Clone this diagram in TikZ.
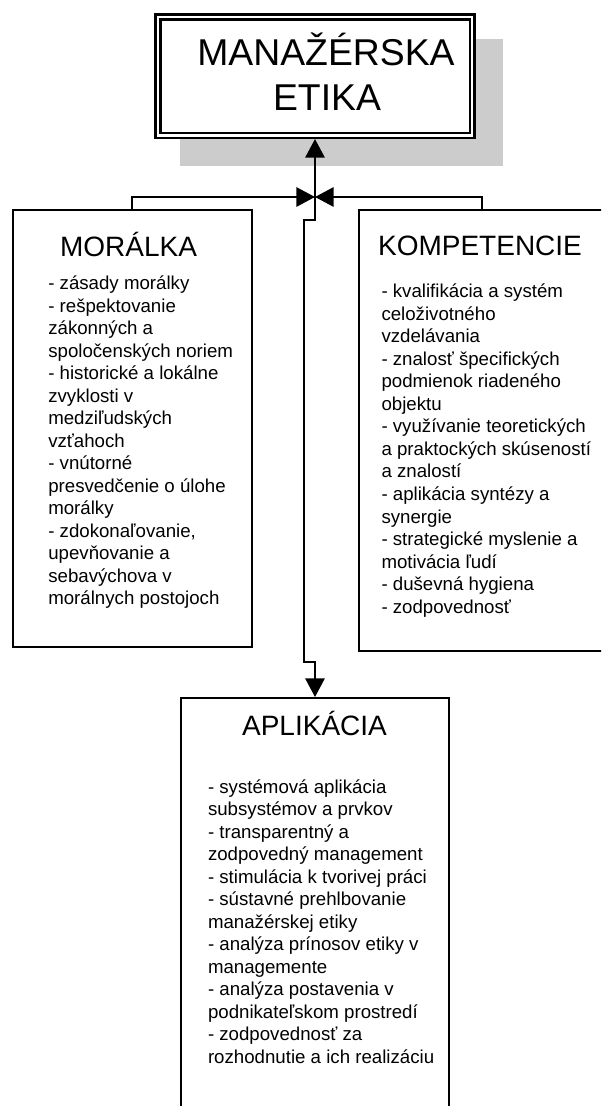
\documentclass[tikz,border=0pt]{standalone}
\usepackage{fontspec}
\setmainfont{Liberation Sans}
\usetikzlibrary{arrows.meta}

\definecolor{shadowgray}{RGB}{204,204,204}
\newcommand{\itemlines}[1]{\begin{tabular}[t]{@{}l@{}}#1\end{tabular}}

\tikzset{every picture/.style={line width=1.5pt}}
\tikzset{
  box/.style={draw, rectangle, fill=white, inner sep=0pt},
  titlebox/.style={draw, double=white, double distance=1.8pt, line width=1.8pt, rectangle, fill=white, inner sep=0pt, outer sep=2.7pt},
  titletext/.style={anchor=base, inner sep=0pt, font=\fontsize{28}{33.5}\selectfont},
  headtext/.style={anchor=base, inner sep=0pt, font=\fontsize{21}{25}\selectfont},
  listtext/.style={anchor=base west, inner sep=0pt, font=\fontsize{14}{16.9}\selectfont},
  conn/.style={-{Triangle[length=14pt,width=14.5pt]}, line width=1.5pt}
}

\begin{document}
\begin{tikzpicture}[x=0.75pt,y=0.75pt,yscale=-1,xscale=1]
%set diagram left start at 0, and has height of 1106
\useasboundingbox (0,0) rectangle (601,1106);
\clip (0,0) rectangle (601,1106);
%Shape: Shadow [id:shadow]
\fill [shadowgray] (180,39) rectangle (503,166);
%Shape: Rectangle [id:title]
\node [titlebox, minimum width=235.65pt, minimum height=88.8pt] (title) at (315,76.2) {};
%Shape: Rectangle [id:moralka]
\node [box, minimum width=179.4pt, minimum height=328pt] (mor) at (132.4,428.7) {};
%Shape: Rectangle [id:kompetencie]
\node [box, minimum width=195.9pt, minimum height=330.4pt] (kom) at (489.4,430.45) {};
%Shape: Rectangle [id:aplikacia]
\node [box, minimum width=200.5pt, minimum height=324pt] (apl) at (315,914) {};
%Hub point
\coordinate (hub) at (315,197);

%Straight Lines [id:up]
\draw [conn] (hub) -- (title.south);
%Straight Lines [id:left]
\draw [conn] (mor.north west) ++(120,0) |- (hub);
%Straight Lines [id:right]
\draw [conn] (kom.north west) ++(123.7,0) |- (hub);
%Straight Lines [id:down]
\draw [conn] (hub) -- ++(0,23) -- ++(-11,0) -- ++(0,442) -- ++(11,0) -- (apl.north);

% Text Node
\node [titletext] (t1) at (326,65) {MANAŽÉRSKA};
% Text Node
\node [titletext] (t2) at (327,110) {ETIKA};
% Text Node
\node [headtext] (morhead) at (128.5,256.5) {MORÁLKA};
% Text Node
\node [listtext] (mortext) at (47.3,289.5) {\itemlines{- zásady morálky\\- rešpektovanie\\zákonných a\\spoločenských noriem\\- historické a lokálne\\zvyklosti v\\medziľudských\\vzťahoch\\- vnútorné\\presvedčenie o úlohe\\morálky\\- zdokonaľovanie,\\upevňovanie a\\sebavýchova v\\morálnych postojoch}};
% Text Node
\node [headtext] (komhead) at (480,255) {KOMPETENCIE};
% Text Node
\node [listtext] (komtext) at (380.5,297.7) {\itemlines{- kvalifikácia a systém\\celoživotného\\vzdelávania\\- znalosť špecifických\\podmienok riadeného\\objektu\\- využívanie teoretických\\a praktockých skúseností\\a znalostí\\- aplikácia syntézy a\\synergie\\- strategické myslenie a\\motivácia ľudí\\- duševná hygiena\\- zodpovednosť}};
% Text Node
\node [headtext] (aplhead) at (314.5,735) {APLIKÁCIA};
% Text Node
\node [listtext] (apltext) at (207,793) {\itemlines{- systémová aplikácia\\subsystémov a prvkov\\- transparentný a\\zodpovedný management\\- stimulácia k tvorivej práci\\- sústavné prehlbovanie\\manažérskej etiky\\- analýza prínosov etiky v\\managemente\\- analýza postavenia v\\podnikateľskom prostredí\\- zodpovednosť za\\rozhodnutie a ich realizáciu}};
\end{tikzpicture}
\end{document}
